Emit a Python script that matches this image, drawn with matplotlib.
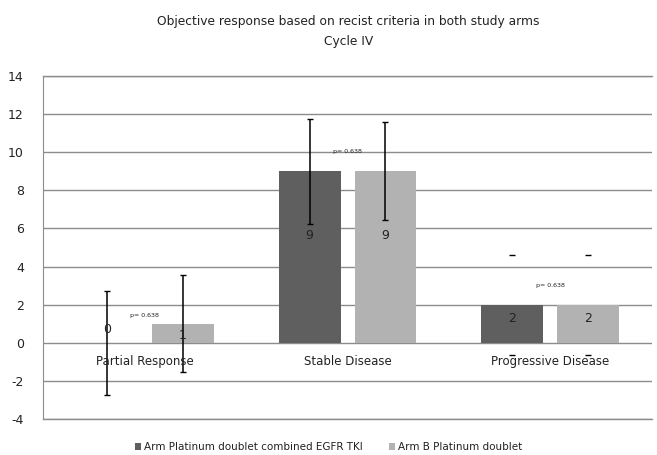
"""
Objective response (RECIST) by study arm, cycle IV
"""
import numpy as np
import matplotlib
matplotlib.use("Agg")
import matplotlib.pyplot as plt

categories = ["Partial Response", "Stable Disease", "Progressive Disease"]
arm_a = [0, 9, 2]
arm_b = [1, 9, 2]
err_a = [2.73, 2.75, 2.63]
err_b = [2.55, 2.58, 2.63]
p_values = ["p= 0.638", "p= 0.638", "p= 0.638"]
label_y_a = [0.7, 5.65, 1.3]
label_y_b = [0.4, 5.65, 1.3]
p_label_y = [1.45, 10.05, 3.0]
series_names = ["Arm Platinum doublet combined EGFR TKI", "Arm B Platinum doublet"]
yticks = [-4, -2, 0, 2, 4, 6, 8, 10, 12, 14]

plt.rcParams['font.family'] = ['Liberation Sans Narrow', 'DejaVu Sans']

fig = plt.figure(figsize=(6.57, 4.55), dpi=100)
ax = fig.add_axes([0.066, 0.079, 0.926, 0.754])

x = np.arange(len(categories))
width = 0.305
offset = 0.187
color_a = '#5f5f5f'
color_b = '#b2b2b2'
grid_color = '#8c8c8c'

ax.bar(x - offset, arm_a, width, color=color_a, label=series_names[0], zorder=2)
ax.bar(x + offset, arm_b, width, color=color_b, label=series_names[1], zorder=2)

# error bars: first two groups full, last group caps only
for i in range(len(categories)):
    lw = 1.1 if i < 2 else 0
    ax.errorbar(x[i] - offset, arm_a[i], yerr=err_a[i], fmt='none', ecolor='black',
                elinewidth=lw, capsize=2.5, capthick=1.0, zorder=3)
    ax.errorbar(x[i] + offset, arm_b[i], yerr=err_b[i], fmt='none', ecolor='black',
                elinewidth=lw, capsize=2.5, capthick=1.0, zorder=3)

# value labels
for i in range(len(categories)):
    ax.text(x[i] - offset, label_y_a[i], str(arm_a[i]), ha='center', va='center',
            fontsize=9, color='#222222', zorder=4)
    ax.text(x[i] + offset, label_y_b[i], str(arm_b[i]), ha='center', va='center',
            fontsize=9, color='#222222', zorder=4)
    ax.text(x[i], p_label_y[i], p_values[i], ha='center', va='center',
            fontsize=4.5, color='#222222', zorder=4)

# category labels just below the zero line
for i, c in enumerate(categories):
    ax.text(x[i], -1.0, c, ha='center', va='center', fontsize=8.5, color='#222222', zorder=4)

ax.set_xlim(-0.5, 2.5)
ax.set_ylim(-4, 14)
ax.set_yticks(yticks)
ax.set_yticklabels([str(t) for t in yticks], fontsize=9, color='#222222')
ax.set_xticks([])
ax.tick_params(axis='y', length=0, pad=14)
ax.yaxis.grid(True, color=grid_color, linewidth=1.0, zorder=0)
ax.axhline(-4, color=grid_color, linewidth=1.0, clip_on=False, zorder=0)
ax.axhline(14, color=grid_color, linewidth=1.0, clip_on=False, zorder=0)
ax.set_axisbelow(True)
for side in ['top', 'right', 'bottom']:
    ax.spines[side].set_visible(False)
ax.spines['left'].set_color(grid_color)

fig.text(0.53, 0.952, "Objective response based on recist criteria in both study arms",
         ha='center', va='center', fontsize=8.8, color='#222222')
fig.text(0.53, 0.908, "Cycle IV", ha='center', va='center', fontsize=8.8, color='#222222')

fig.legend(loc='center', bbox_to_anchor=(0.5, 0.017), ncol=2, frameon=False,
           fontsize=7.5, handlelength=0.6, handleheight=0.6, handletextpad=0.3,
           columnspacing=2.5, labelcolor='#222222')

fig.savefig("out.png", dpi=100)
